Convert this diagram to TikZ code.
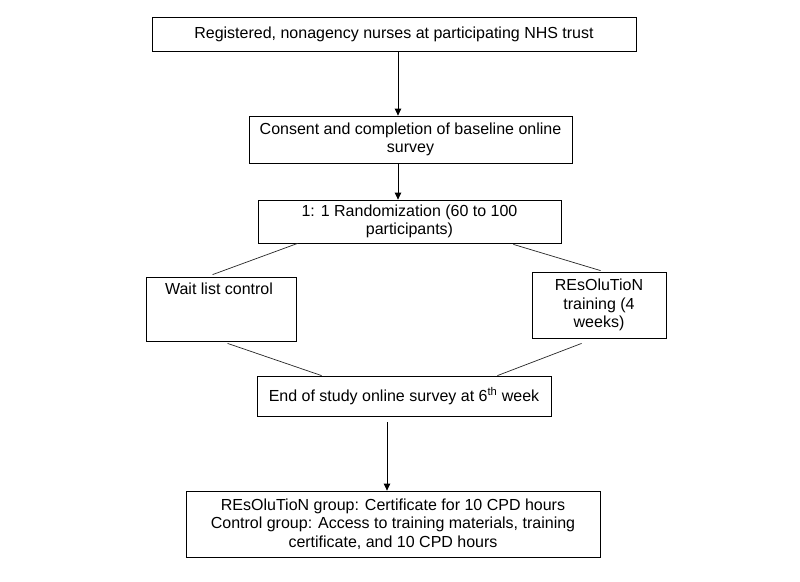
\documentclass[tikz,border=0pt]{standalone}
\usepackage{fontspec}
\setmainfont{Liberation Sans}
\usetikzlibrary{calc,arrows.meta}
\begin{document}
\begin{tikzpicture}[x=1pt,y=-1pt,
  box/.style={draw,line width=0.8pt,rectangle,inner sep=0pt,align=center,
    font=\fontsize{16}{18.5}\selectfont},
  txt/.style={inner sep=2pt,align=center,font=\fontsize{16}{18.5}\selectfont},
  arr/.style={line width=0.8pt,-{Triangle[length=7pt,width=6.5pt]}},
  link/.style={line width=0.7pt,draw=black!85}]
\useasboundingbox (0,0) rectangle (800,581);
\fill[white] (0,0) rectangle (800,581);
\node[box,minimum width=484pt,minimum height=34pt] (n1) at (394,34) {Registered, nonagency nurses at participating NHS trust};
\node[box,minimum width=323pt,minimum height=47pt] (n2) at (410.5,139.5) {Consent and completion of baseline online\\survey};
\node[box,minimum width=303pt,minimum height=43pt] (n3) at (409.5,221.5) {1: 1 Randomization (60 to 100\\participants)};
\node[box,minimum width=150pt,minimum height=64pt] (n4) at (221,309) {};
\node[txt,anchor=north] (n4t) at ($(n4.north)+(-2,4)$) {Wait list control};
\node[box,minimum width=134pt,minimum height=66pt] (n5) at (599,305) {REsOluTioN\\training (4\\weeks)};
\node[box,minimum width=294pt,minimum height=40pt] (n6) at (404,396) {End of study online survey at 6\textsuperscript{th} week};
\node[box,minimum width=414pt,minimum height=66pt] (n7) at (393,524) {REsOluTioN group: Certificate for 10 CPD hours\\Control group: Access to training materials, training\\certificate, and 10 CPD hours};
\coordinate (a1) at (398,0);
\coordinate (a3) at (387,0);
\draw[arr] (n1.south -| a1) -- (n2.north -| a1);
\draw[arr] (n2.south -| a1) -- (n3.north -| a1);
\draw[arr] ($(n6.south -| a3)+(0,6)$) -- (n7.north -| a3);
\draw[link] ($(n3.south west)+(40,0)$) -- ($(n4.north west)+(67,-2)$);
\draw[link] ($(n3.south east)+(-48,1)$) -- ($(n5.north west)+(69,-1)$);
\draw[link] ($(n4.south west)+(82,2)$) -- ($(n6.north west)+(65,0)$);
\draw[link] ($(n5.south west)+(50,5)$) -- ($(n6.north east)+(-54,0)$);
\end{tikzpicture}
\end{document}
